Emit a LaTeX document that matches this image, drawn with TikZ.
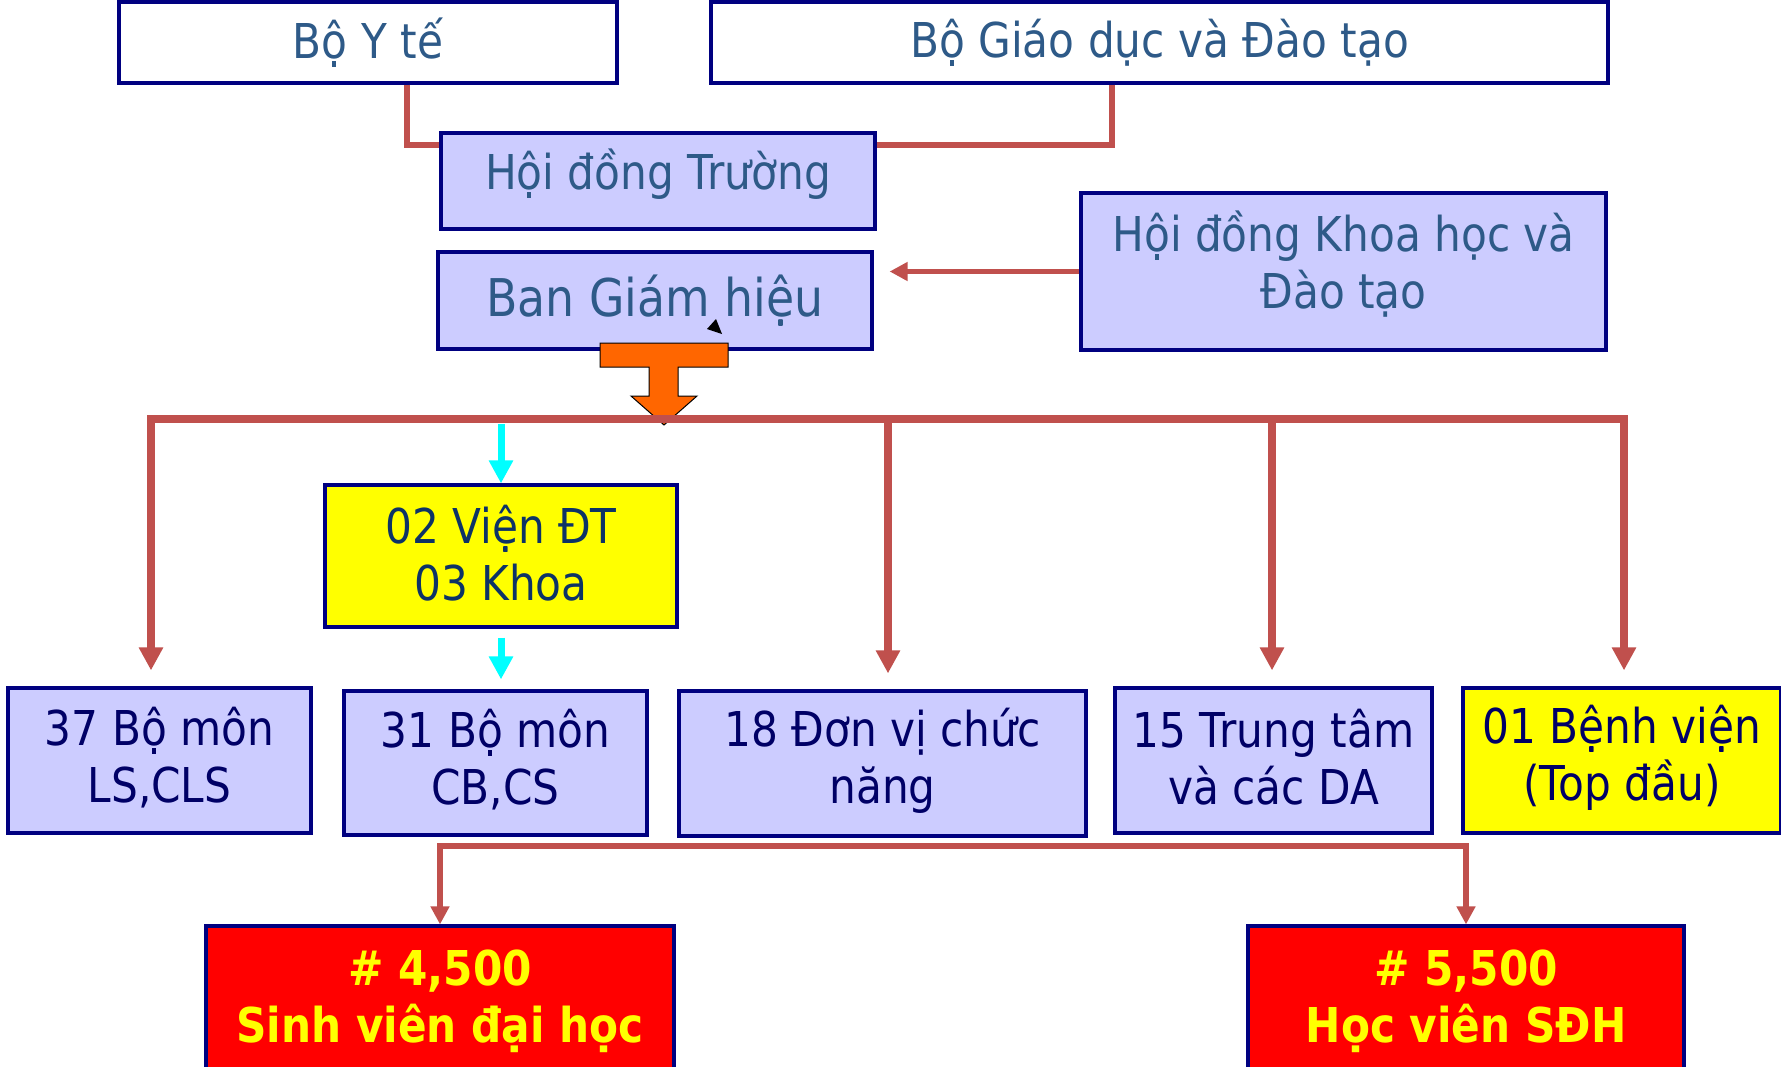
\documentclass[tikz,border=0pt]{standalone}
\usepackage{fontspec}
\setmainfont{DejaVu Sans}[FakeStretch=0.88]
\usepackage{tikz}
\usetikzlibrary{arrows.meta}
\definecolor{boxfill}{HTML}{CCCCFF}
\definecolor{boxline}{HTML}{000080}
\definecolor{linkred}{HTML}{C0504D}
\definecolor{topblue}{HTML}{2E5A88}
\definecolor{navytext}{HTML}{000066}
\definecolor{yellowtext}{HTML}{0D3366}
\definecolor{tarrow}{HTML}{FF6600}
\definecolor{pureyellow}{HTML}{FFFF00}
\definecolor{purered}{HTML}{FF0000}
\definecolor{purecyan}{HTML}{00FFFF}

\begin{document}
\begin{tikzpicture}[x=0.5pt,y=-0.5pt,-]
            \tikzstyle{box}=[rectangle,draw=boxline,line width=1.6pt,fill=boxfill,inner sep=0pt,align=center,font=\fontsize{24}{28.5}\selectfont]
            \tikzstyle{unitbox}=[box,text=navytext,minimum height=72.5pt,text height=44.5pt]
            \tikzstyle{redline}=[draw=linkred,line width=3.6pt]
            \tikzstyle{thinred}=[draw=linkred,line width=2.8pt]
            \tikzstyle{cyanline}=[draw=purecyan,line width=3.5pt]
            \tikzstyle{bigtip}=[-{Triangle[width=11.5pt,length=11.5pt]}]
            \tikzstyle{smalltip}=[-{Triangle[width=9pt,length=9pt]}]
            \useasboundingbox (0,0) rectangle (1781,1066);
            \fill[white] (0,0) rectangle (1781,1066);

            % top level
            \node[box,fill=white,text=topblue,minimum width=249pt,minimum height=40.5pt] (byt) at (368,42.5) {Bộ Y tế};
            \node[box,fill=white,text=topblue,minimum width=448.5pt,minimum height=40.5pt] (bgd) at (1159.5,42.5) {Bộ Giáo dục và Đào tạo};
            \node[box,text=topblue,minimum width=217pt,minimum height=48pt,text height=13.5pt] (hdt) at (658,181) {Hội đồng Trường};
            \node[box,text=topblue,minimum width=217pt,minimum height=48.5pt,font=\fontsize{26}{31}\selectfont] (bgh) at (655,300.5) {Ban Giám hiệu};
            \node[box,text=topblue,minimum width=262.5pt,minimum height=78.5pt,text height=41.5pt] (hdkh) at (1343.5,271.5) {Hội đồng Khoa học và\\Đào tạo};

            \coordinate (jl) at (407,145);
            \coordinate (jr) at (1112,145);
            \draw[thinred] (jl |- byt.south) -- (jl) -- (hdt.west |- jl);
            \draw[thinred] (jr |- bgd.south) -- (jr) -- (hdt.east |- jr);
            \draw[thinred,smalltip,shorten >=8pt] (hdkh.west) -- (bgh.east |- hdkh.west);
            \fill (707,329) -- (722,334) -- (716,319) -- cycle;

            % units
            \node[unitbox,fill=pureyellow,text=yellowtext,minimum width=176pt,minimum height=71pt] (vien) at (501,556) {02 Viện ĐT\\03 Khoa};
            \node[unitbox,minimum width=151.5pt] (bm37) at (159.5,760.5) {37 Bộ môn\\LS,CLS};
            \node[unitbox,minimum width=151.5pt,minimum height=72pt] (bm31) at (495.5,763) {31 Bộ môn\\CB,CS};
            \node[unitbox,minimum width=203.5pt] (dv18) at (882.5,763.5) {18 Đơn vị chức\\năng};
            \node[unitbox,minimum width=158.5pt] (tt15) at (1273.5,760.5) {15 Trung tâm\\và các DA};
            \node[unitbox,fill=pureyellow,minimum width=159pt] (bv01) at (1622,760.5) {01 Bệnh viện\\(Top đầu)};

            % learners
            \node[box,fill=purered,text=pureyellow,minimum width=234pt,minimum height=75pt,font=\fontsize{24}{28.5}\selectfont\bfseries] (sv) at (440,1001) {\# 4,500\\Sinh viên đại học};
            \node[box,fill=purered,text=pureyellow,minimum width=218pt,minimum height=75pt,font=\fontsize{24}{28.5}\selectfont\bfseries] (hv) at (1466,1001) {\# 5,500\\Học viên SĐH};

            % orange T arrow
            \filldraw[fill=tarrow,draw=black,line width=0.5pt] (600,343) -- (728,343) -- (728,367) -- (678,367) -- (678,396) -- (697,396)
                -- (664,425) -- (631,396) -- (649,396) -- (649,367) -- (600,367) -- cycle;

            \coordinate (bus) at (664,419);
            \draw[cyanline,bigtip] ([yshift=-2.5pt]vien.north |- bus) -- (vien.north);
            \draw[cyanline,bigtip,shorten <=4.5pt,shorten >=5pt] (vien.south) -- (vien.south |- bm31.north);
            \draw[redline,line cap=rect] ([xshift=-4.25pt]bm37.north |- bus) -- ([xshift=1pt]bv01.north |- bus);
            \foreach \n/\dx in {bm37/-4.25, dv18/2.75, tt15/-0.75, bv01/1}
                \draw[redline,bigtip,shorten >=8pt] ([xshift=\dx pt]\n.north |- bus) -- ([xshift=\dx pt]\n.north);

            \coordinate (lowbus) at (953,846);
            \draw[thinred,{Triangle[width=9pt,length=9pt]}-{Triangle[width=9pt,length=9pt]}] (sv.north) |- (lowbus) -| (hv.north);
\end{tikzpicture}
\end{document}
